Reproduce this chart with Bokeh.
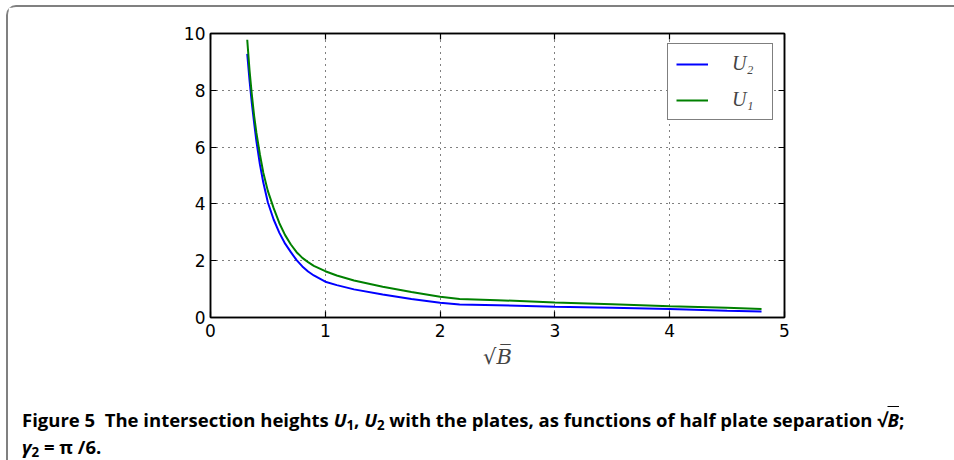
from bokeh.plotting import figure
from bokeh.layouts import column
from bokeh.models import Range1d, LinearAxis, FixedTicker, Legend, LegendItem, Div
from bokeh.embed import file_html
from bokeh.resources import INLINE

# ---- data ----
sqrtB = [0.32, 0.34, 0.36, 0.38, 0.40, 0.43, 0.46, 0.50, 0.55, 0.60, 0.65, 0.70,
         0.75, 0.80, 0.85, 0.90, 1.00, 1.10, 1.25, 1.50, 1.75, 2.00, 2.17, 2.50,
         3.00, 3.50, 4.00, 4.50, 4.80]
U2 = [9.28, 8.35, 7.55, 6.85, 6.20, 5.40, 4.75, 4.05, 3.45, 2.98, 2.60, 2.30,
      2.02, 1.80, 1.62, 1.48, 1.26, 1.14, 0.99, 0.81, 0.65, 0.52, 0.46, 0.43,
      0.38, 0.34, 0.30, 0.24, 0.21]
U1 = [9.78, 8.70, 7.85, 7.10, 6.50, 5.75, 5.10, 4.45, 3.85, 3.32, 2.90, 2.57,
      2.30, 2.10, 1.95, 1.82, 1.63, 1.48, 1.30, 1.08, 0.90, 0.73, 0.65, 0.61,
      0.53, 0.47, 0.40, 0.34, 0.30]
x_ticks = [0, 1, 2, 3, 4, 5]
y_ticks = [0, 2, 4, 6, 8, 10]
series_labels = ["U\u2082", "U\u2081"]
x_label = "\u221aB\u0305"
caption_html = (
    "Figure 5&nbsp;&nbsp;The intersection heights <i>U</i><sub>1</sub>, "
    "<i>U</i><sub>2</sub> with the plates, as functions of half plate separation "
    "\u221a<span style='text-decoration:overline'><i>B</i></span>;<br>"
    "<i>\u03b3</i><sub>2</sub> = \u03c0 /6."
)

# ---- main chart ----
p = figure(width=946, height=373, output_backend="svg", toolbar_location=None,
           x_range=Range1d(0, 5), y_range=Range1d(0, 10),
           min_border_left=202, min_border_right=170,
           min_border_top=26, min_border_bottom=63)
p.background_fill_color = "white"
p.border_fill_color = "white"
p.outline_line_color = "black"
p.outline_line_width = 1.5

def style_axis(ax, show_labels=True):
    ax.axis_line_color = "black"
    ax.axis_line_width = 1.5
    ax.major_tick_in = 6
    ax.major_tick_out = 0
    ax.major_tick_line_color = "black"
    ax.major_tick_line_width = 1.2
    ax.minor_tick_line_color = None
    ax.major_label_text_font = "DejaVu Sans"
    if show_labels:
        ax.major_label_text_font_size = "17px"
        ax.major_label_text_color = "black"
    else:
        ax.major_label_text_font_size = "2px"
        ax.major_label_text_color = None
        ax.major_label_standoff = 0

p.xaxis.ticker = FixedTicker(ticks=x_ticks)
p.yaxis.ticker = FixedTicker(ticks=y_ticks)
style_axis(p.xaxis[0])
style_axis(p.yaxis[0])
p.xaxis.major_label_standoff = 6
p.yaxis.major_label_standoff = 5
p.xaxis.axis_label = x_label
p.xaxis.axis_label_text_font = "DejaVu Serif"
p.xaxis.axis_label_text_font_style = "italic"
p.xaxis.axis_label_text_font_size = "21px"
p.xaxis.axis_label_standoff = 5

top_ax = LinearAxis(ticker=FixedTicker(ticks=x_ticks))
style_axis(top_ax, False)
right_ax = LinearAxis(ticker=FixedTicker(ticks=y_ticks))
style_axis(right_ax, False)
p.add_layout(top_ax, "above")
p.add_layout(right_ax, "right")

for g in (p.xgrid[0], p.ygrid[0]):
    g.grid_line_color = "black"
    g.grid_line_dash = "1 5"
    g.grid_line_width = 1
p.xgrid.ticker = FixedTicker(ticks=x_ticks)
p.ygrid.ticker = FixedTicker(ticks=y_ticks)

r2 = p.line(sqrtB, U2, line_color="#0000ff", line_width=2)
r1 = p.line(sqrtB, U1, line_color="#008000", line_width=2)

legend = Legend(items=[LegendItem(label=series_labels[0], renderers=[r2]),
                       LegendItem(label=series_labels[1], renderers=[r1])],
                location=(457, 197), orientation="vertical")
legend.border_line_color = "black"
legend.border_line_width = 1.5
legend.background_fill_alpha = 1
legend.label_text_font = "Liberation Serif"
legend.label_text_font_style = "italic"
legend.label_text_font_size = "20px"
legend.glyph_width = 32
legend.glyph_height = 20
legend.label_height = 20
legend.label_width = 32
legend.label_standoff = 24
legend.padding = 8
legend.spacing = 13
legend.margin = 0
p.add_layout(legend, "center")

# ---- caption ----
cap = Div(text=("<div style=\"font-family:'Open Sans'; font-weight:bold; "
                "font-size:18.5px; line-height:27px; padding:26px 0 0 14px; "
                "white-space:nowrap; color:#000;\">" + caption_html + "</div>")
          .replace("<sub>", "<sub style='font-size:0.72em; vertical-align:-0.22em; line-height:0'>"),
          width=946, height=80, margin=0)

layout = column(p, cap, spacing=0,
                styles={"margin-left": "6px", "margin-top": "5px",
                        "border-left": "2px solid #808080",
                        "border-top": "2px solid #808080",
                        "border-top-left-radius": "10px"})

open("out.html", "w").write(file_html(layout, INLINE))
